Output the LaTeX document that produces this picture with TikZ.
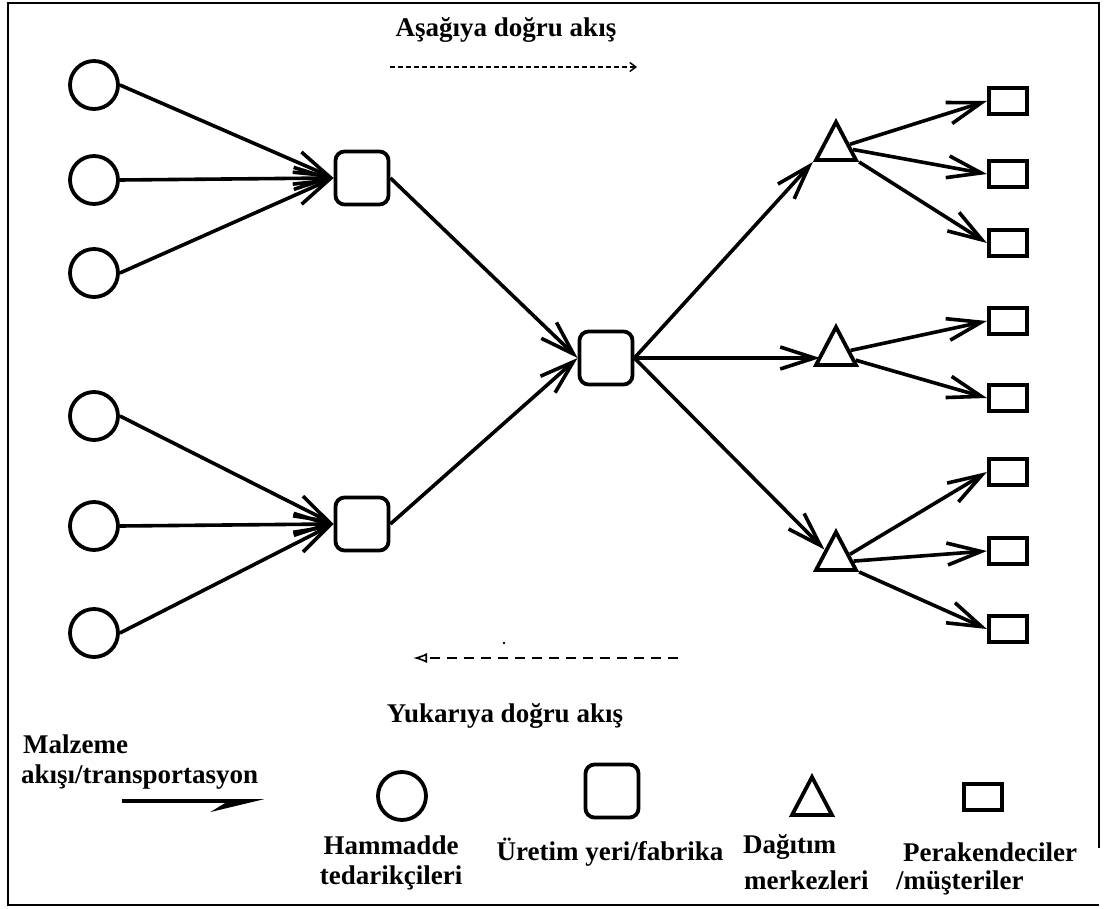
\documentclass[tikz,border=0pt]{standalone}
\usepackage{fontspec}
\setmainfont{Liberation Serif}
\usetikzlibrary{arrows.meta,shapes.geometric}

\tikzset{
  lbl/.style={font=\bfseries\fontsize{27}{30}\selectfont, inner sep=0pt},
  supplier/.style={circle, draw, line width=3.8pt, minimum size=48pt, inner sep=0pt},
  plant/.style={draw, rounded corners=9pt, line width=3.8pt, minimum width=53pt, minimum height=53pt, inner sep=0pt},
  dc/.style={draw, isosceles triangle, shape border rotate=90, isosceles triangle stretches,
             minimum width=40pt, minimum height=38pt, line width=3.8pt, inner sep=0pt},
  shop/.style={draw, rectangle, line width=4.2pt, minimum width=38pt, minimum height=26pt, inner sep=0pt},
  flow/.style={line width=3.6pt, -{Straight Barb[length=34pt, width=22pt]}},
  legendflow/.style={line width=3.6pt, -{Stealth[harpoon, swap, length=46pt, width=22pt, inset=18pt]}},
  frame/.style={line width=2.4pt},
}

\begin{document}
\begin{tikzpicture}[x=1pt, y=-1pt]
\useasboundingbox (0,0) rectangle (1105,909);

% outer frame (right edge stops above the last caption)
\draw[frame] (1099,848) -- (1099,3) -- (8,3) -- (8,905) -- (1099,905);

% raw material suppliers
\node[supplier] (s1) at (94,85)  {};
\node[supplier] (s2) at (94,180) {};
\node[supplier] (s3) at (94,273) {};
\node[supplier] (s4) at (94,416) {};
\node[supplier] (s5) at (94,526) {};
\node[supplier] (s6) at (94,633) {};

% production sites
\node[plant] (p1) at (362,178) {};
\node[plant] (p2) at (362,524) {};
\node[plant] (p0) at (606,358) {};

% distribution centres
\node[dc] (d1) at (836,148) {};
\node[dc] (d2) at (836,353) {};
\node[dc] (d3) at (836,558) {};

% retailers / customers
\node[shop] (r1) at (1008,101) {};
\node[shop] (r2) at (1008,174) {};
\node[shop] (r3) at (1008,243) {};
\node[shop] (r4) at (1008,321) {};
\node[shop] (r5) at (1008,398) {};
\node[shop] (r6) at (1008,472) {};
\node[shop] (r7) at (1008,551) {};
\node[shop] (r8) at (1008,629) {};

% material flows
\foreach \s in {s1,s2,s3} \draw[flow] (\s.east) -- (p1.west);
\foreach \s in {s4,s5,s6} \draw[flow] (\s.east) -- (p2.west);
\draw[flow] (p1.east) -- (p0.west);
\draw[flow] (p2.east) -- (p0.west);
\draw[flow] (p0.east) -- (d1.left corner);
\draw[flow] (p0.east) -- (d2.west |- p0.east);
\draw[flow] (p0.east) -- (d3.left side);

\draw[flow] (d1.15)  -- (r1.west);
\draw[flow] (d1.-5)  -- (r2.west);
\draw[flow] (d1.right corner) -- (r3.west);
\draw[flow] (d2.10)  -- (r4.west);
\draw[flow] (d2.-20) -- (r5.west);
\draw[flow] (d3.15)  -- (r6.west);
\draw[flow] (d3.-10) -- (r7.west);
\draw[flow] (d3.right corner) -- (r8.west);

% flow direction captions
\node[lbl] (down) at (506,30) {Aşağıya doğru akış};
\coordinate (dA) at (390,67);
\coordinate (dB) at (637,67);
\draw[line width=1.5pt, dash pattern=on 5pt off 3pt, -{Straight Barb[length=6pt, width=9pt]}] (dA) -- (dB);

\coordinate (uA) at (678,658);
\coordinate (uB) at (413,658);
\draw[line width=1.6pt, dash pattern=on 10pt off 7pt, -{Latex[open, length=14pt, width=10pt]}] (uA) -- (uB);
\fill (504,643) circle (1.4pt);
\node[lbl] (up) at (505,716) {Yukarıya doğru akış};

% legend
\node[lbl, anchor=west] (lm1) at (23,744) {Malzeme};
\node[lbl, anchor=west] (lm2) at (21,777) {akışı/transportasyon};
\coordinate (lA) at (122,801);
\coordinate (lB) at (264,801);
\draw[legendflow] (lA) -- (lB);

\node[supplier] (ls) at (402,796) {};
\node[lbl] (ls1) at (391,845) {Hammadde};
\node[lbl] (ls2) at (391,878) {tedarikçileri};

\node[plant] (lp) at (612,791) {};
\node[lbl] (lp1) at (610,852) {Üretim yeri/fabrika};

\node[dc] (ld) at (812,803) {};
\node[lbl, anchor=west] (ld1) at (743,847) {Dağıtım};
\node[lbl, anchor=west] (ld2) at (744,880) {merkezleri};

\node[shop] (lr) at (983,797) {};
\node[lbl, anchor=west] (lr1) at (903,852) {Perakendeciler};
\node[lbl, anchor=west] (lr2) at (896,883) {/müşteriler};
\end{tikzpicture}
\end{document}
